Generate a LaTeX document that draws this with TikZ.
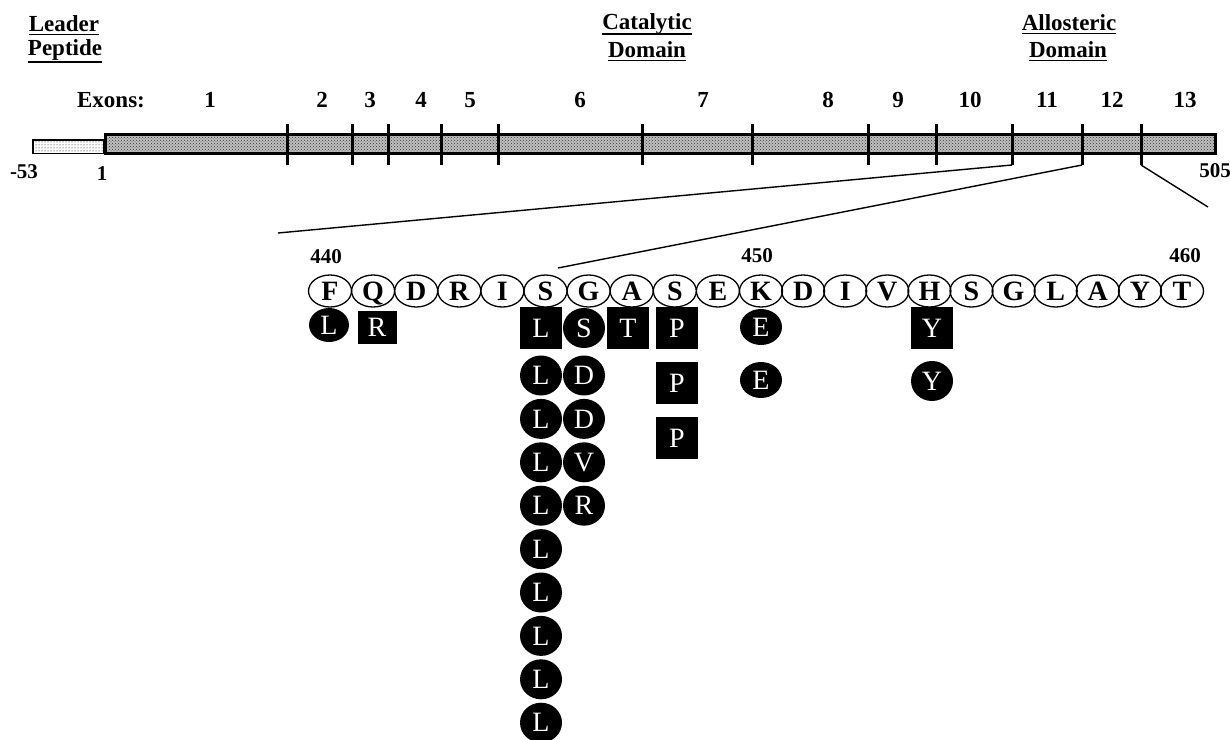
\documentclass[tikz,border=0pt]{standalone}
\usepackage{fontspec}
\setmainfont{Liberation Serif}
\usetikzlibrary{shapes.geometric,patterns}

\tikzset{
  lbl/.style={font=\bfseries\fontsize{23}{27}\selectfont, inner sep=0pt, anchor=base},
  num/.style={font=\bfseries\fontsize{21}{25}\selectfont, inner sep=0pt, anchor=base},
  ul/.style={line width=1.4pt},
  zoomline/.style={line width=1.4pt},
  tick/.style={line width=3pt},
  seqres/.style={draw, line width=1.3pt, ellipse, minimum width=43pt, minimum height=32pt,
    inner sep=0pt, text height=18.5pt, text depth=0pt, font=\bfseries\fontsize{28}{32}\selectfont},
  mut/.style={fill=black, text=white, inner sep=0pt, text height=18.5pt, text depth=0pt,
    font=\fontsize{28}{32}\selectfont},
  mcirc/.style={mut, ellipse, minimum width=42pt, minimum height=40pt},
  msq/.style={mut, rectangle, minimum width=42pt, minimum height=42pt},
}

\begin{document}
\begin{tikzpicture}[x=1pt,y=-1pt]
\useasboundingbox (0,0) rectangle (1230,739);

% ---- domain headings ----
\node[lbl] (lead) at (64,31) {Leader};
\node[lbl] (pept) at (65,55.5) {Peptide};
\node[lbl] (cata) at (647,29) {Catalytic};
\node[lbl] (cdom) at (647,57) {Domain};
\node[lbl] (allo) at (1069,30) {Allosteric};
\node[lbl] (adom) at (1068,57) {Domain};
\draw[ul] ([yshift=-3.5pt]lead.base west) -- ([yshift=-3.5pt]lead.base east);
\draw[ul] ([yshift=-6.5pt]pept.base west) -- ([yshift=-6.5pt]pept.base east);
\draw[ul] ([yshift=-5pt]cata.base west) -- ([yshift=-5pt]cata.base east);
\draw[ul] ([yshift=-3.5pt]cdom.base west) -- ([yshift=-3.5pt]cdom.base east);
\draw[ul] ([yshift=-3.5pt]allo.base west) -- ([yshift=-3.5pt]allo.base east);
\draw[ul] ([yshift=-3.5pt]adom.base west) -- ([yshift=-3.5pt]adom.base east);

% ---- exon numbers ----
\node[lbl] (exons) at (111,107) {Exons:};
\foreach \n/\x in {1/210,2/322,3/370,4/421,5/470,6/580,7/703,8/828,9/898,10/970,11/1047,12/1112,13/1185}
  \node[lbl] (ex\n) at (\x,107) {\n};

% ---- protein bar ----
\fill[white] (33,140) rectangle (104,153.5);
\fill[pattern=dots, pattern color=black] (33,140) rectangle (104,153.5);
\draw[line width=1.5pt] (33,140) rectangle (104,153.5);
\fill[gray!50] (105,134.5) rectangle (1215,153.5);
\fill[pattern=crosshatch dots, pattern color=black!80] (105,134.5) rectangle (1215,153.5);
\draw[line width=3pt] (105,134.5) rectangle (1215,153.5);

% exon boundaries
\foreach \x [count=\k] in {287,352,388,441,498,642,752,868,936,1012,1082,1141} {
  \coordinate (tt\k) at (\x,124);
  \coordinate (tb\k) at (\x,165);
  \draw[tick] (tt\k) -- (tb\k);
}

\node[num] (pm53) at (24,178) {-53};
\node[num] (p1) at (102,180) {1};
\node[num] (p505) at (1215,177) {505};

% ---- expansion lines ----
\coordinate (za) at (278,233);
\coordinate (zb) at (558,268);
\coordinate (zc) at (1208,207);
\draw[zoomline] (tb10) -- (za);
\draw[zoomline] (tb11) -- (zb);
\draw[zoomline] (tb12) -- (zc);

% ---- residues 440-460 ----
\node[num] (n440) at (326,263) {440};
\node[num] (n450) at (757,262) {450};
\node[num] (n460) at (1185,262) {460};
\foreach \a/\x [count=\i from 0] in {F/330,Q/373.1,D/416.2,R/459.3,I/502.4,S/545.5,G/588.6,
    A/631.7,S/674.8,E/717.9,K/761,D/803.1,I/845.2,V/887.3,H/929.4,S/971.5,G/1013.6,
    L/1055.7,A/1097.8,Y/1139.9,T/1182}
  \node[seqres] (s\i) at (\x,291) {\a};

% ---- substitutions ----
\node[mcirc, minimum width=40pt, minimum height=34pt] (f1) at (329,325) {L};
\node[msq, minimum width=39pt, minimum height=33pt] (q1) at (377,327) {R};

\node[msq] (sa1) at (541,328) {L};
\foreach \y [count=\k from 2] in {375.5,418.9,462.3,505.7,549.1,592.5,635.9,679.3,722.7}
  \node[mcirc] (sa\k) at (541,\y) {L};

\node[msq] (ta1) at (628,328) {T};
\node[mcirc] (gb1) at (584,328) {S};
\node[mcirc] (gb2) at (584,375.5) {D};
\node[mcirc] (gb3) at (584,418.9) {D};
\node[mcirc] (gb4) at (584,462.3) {V};
\node[mcirc] (gb5) at (584,505.7) {R};

\node[msq] (pc1) at (677,328) {P};
\node[msq] (pc2) at (677,383) {P};
\node[msq] (pc3) at (677,438) {P};

\node[mcirc, minimum height=36pt] (ke1) at (761,327) {E};
\node[mcirc, minimum height=36pt] (ke2) at (761,380) {E};

\node[msq] (hy1) at (932,328) {Y};
\node[mcirc] (hy2) at (932,381) {Y};

\end{tikzpicture}
\end{document}
